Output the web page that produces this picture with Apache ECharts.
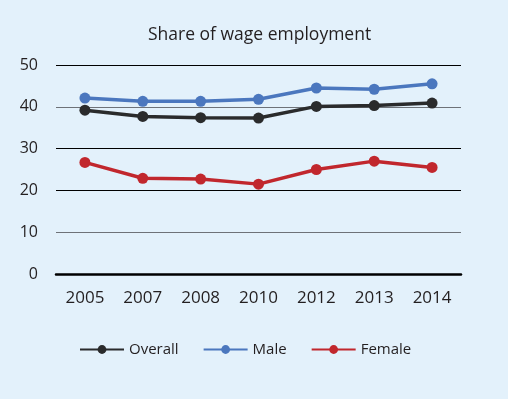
<!DOCTYPE html>
<html lang="en">
<head>
    <meta charset="UTF-8">
    <title>Share of wage employment</title>
    <script type="text/javascript" src="https://cdn.jsdelivr.net/npm/echarts@6/dist/echarts.min.js"></script>
    <style>
        html, body { margin: 0; padding: 0; background: #e3f1fb; }
    </style>
</head>
<body>
<div id="main" style="width:508px;height:399px;"></div>
<script>
    // years on the x axis
    const years = ['2005', '2007', '2008', '2010', '2012', '2013', '2014'];
    // values (percent)
    const overall = [39.2, 37.7, 37.4, 37.3, 40.1, 40.3, 40.9];
    const male = [42.1, 41.3, 41.3, 41.8, 44.5, 44.2, 45.5];
    const female = [26.7, 22.9, 22.7, 21.5, 25.0, 27.0, 25.5];

    const font = 'Open Sans';

    function line(name, data, color) {
        return {
            name: name,
            type: 'line',
            data: data,
            symbol: 'circle',
            symbolSize: 11,
            lineStyle: { color: color, width: 3.5 },
            itemStyle: { color: color },
            emphasis: { disabled: true }
        };
    }

    let myChart = echarts.init(document.getElementById('main'));
    let option = {
        backgroundColor: '#e3f1fb',
        animation: false,
        title: {
            text: 'Share of wage employment',
            left: 143,
            top: 21,
            textStyle: { fontFamily: font, fontSize: 17.5, fontWeight: 'normal', color: '#231f20' }
        },
        grid: { left: 56, right: 47, top: 65, bottom: 125 },
        xAxis: {
            type: 'category',
            data: years,
            axisTick: { show: false },
            axisLine: { lineStyle: { color: '#000', width: 2.5 } },
            axisLabel: { fontFamily: font, fontSize: 17, color: '#231f20', margin: 16 }
        },
        yAxis: {
            type: 'value',
            min: 0,
            max: 50,
            interval: 10,
            axisLabel: { fontFamily: font, fontSize: 16, color: '#231f20', margin: 18 },
            splitLine: { lineStyle: { color: ['#000', '#6e7278', '#000', '#000', '#6e7278', '#000'], width: 1 } }
        },
        legend: {
            bottom: 37,
            left: 74,
            itemWidth: 44,
            itemHeight: 11,
            itemGap: 24,
            textStyle: { fontFamily: font, fontSize: 15, color: '#231f20' },
            data: ['Overall', 'Male', 'Female']
        },
        series: [
            line('Overall', overall, '#2a2b2c'),
            line('Male', male, '#4b77be'),
            line('Female', female, '#c1272d')
        ]
    };
    myChart.setOption(option);
</script>
</body>
</html>
